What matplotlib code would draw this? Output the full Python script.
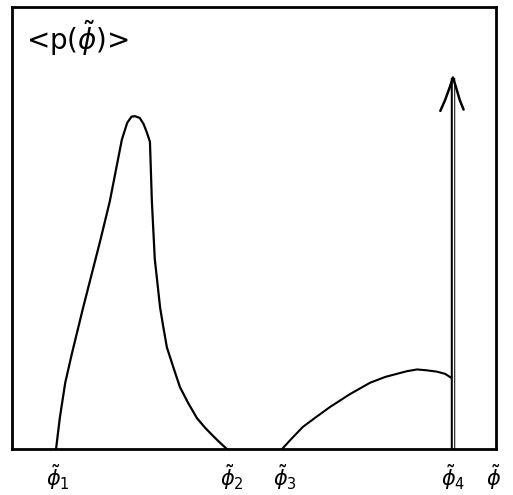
import matplotlib.pyplot as plt

# left peak (phi units 0..10, height 0..1)
peak_x = [0.91, 0.99, 1.10, 1.24, 1.47, 1.82, 2.02, 2.27, 2.38, 2.47, 2.54, 2.64, 2.72, 2.79, 2.85,
          2.89, 2.95, 3.06, 3.12, 3.20, 3.33, 3.47, 3.64, 3.82, 3.99, 4.15, 4.30, 4.44]
peak_y = [0.00, 0.072, 0.15, 0.217, 0.32, 0.47, 0.56, 0.70, 0.738, 0.752, 0.753, 0.749, 0.735, 0.715, 0.695,
          0.56, 0.43, 0.32, 0.28, 0.23, 0.186, 0.14, 0.104, 0.07, 0.048, 0.03, 0.014, 0.00]

# right hump
hump_x = [5.58, 5.79, 6.01, 6.28, 6.57, 6.98, 7.40, 7.71, 7.95, 8.16, 8.37, 8.57, 8.78, 8.95, 9.09]
hump_y = [0.00, 0.025, 0.05, 0.072, 0.095, 0.124, 0.15, 0.163, 0.17, 0.176, 0.18, 0.178, 0.175, 0.17, 0.16]

# delta spike
spike_x = 9.11
spike_top = 0.84

tick_pos = [0.95, 4.55, 5.65, 9.11, 9.95]
tick_labels = [r'$\tilde{\phi}_1$', r'$\tilde{\phi}_2$', r'$\tilde{\phi}_3$',
               r'$\tilde{\phi}_4$', r'$\tilde{\phi}$']

fig = plt.figure(figsize=(5.13, 4.95), dpi=100)
ax = fig.add_axes([12 / 513, 46 / 495, 484 / 513, 442 / 495])

ax.plot(peak_x, peak_y, color='black', lw=1.6, solid_joinstyle='round')
ax.plot(hump_x, hump_y, color='black', lw=1.5, solid_joinstyle='round')

# double-stroked spike
ax.plot([spike_x, spike_x], [0, spike_top], color='black', lw=3.2, solid_capstyle='butt')
ax.plot([spike_x, spike_x], [0, spike_top - 0.005], color='white', lw=1.0, solid_capstyle='butt')
# hand-drawn arrow barbs
ax.plot([spike_x, spike_x - 0.06, spike_x - 0.16, spike_x - 0.26], [spike_top, 0.82, 0.79, 0.765],
        color='black', lw=1.8, solid_capstyle='round')
ax.plot([spike_x, spike_x + 0.06, spike_x + 0.14, spike_x + 0.22], [spike_top, 0.82, 0.79, 0.768],
        color='black', lw=1.8, solid_capstyle='round')

ax.set_xlim(0, 10)
ax.set_ylim(0, 1)
for s in ax.spines.values():
    s.set_linewidth(2)
ax.set_xticks([])
ax.set_yticks([])

for x, lab in zip(tick_pos, tick_labels):
    ax.text(x, -0.03, lab, ha='center', va='top', fontsize=15, fontweight='bold')

ax.text(0.28, 0.93, r'<p($\tilde{\phi}$)>', ha='left', va='center', fontsize=20)

fig.savefig('out.png', dpi=100)
